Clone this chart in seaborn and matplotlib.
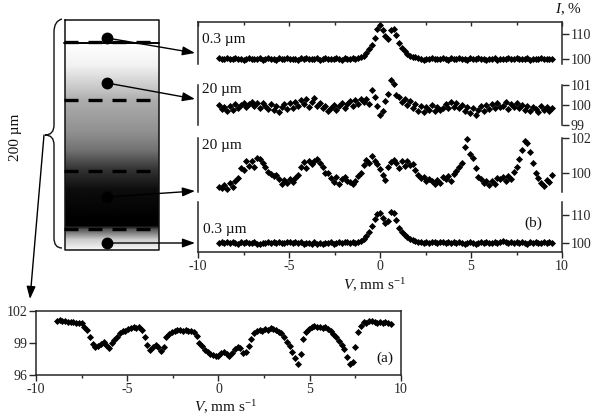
import matplotlib
matplotlib.use("Agg")
import matplotlib.pyplot as plt
import numpy as np
import pandas as pd
import seaborn as sns
from matplotlib.path import Path
from matplotlib.patches import PathPatch

# velocity grid, mm/s
velocity = [
    -8.85, -8.70, -8.55, -8.40, -8.25, -8.10, -7.95, -7.80, -7.65, -7.50,
    -7.35, -7.20, -7.05, -6.90, -6.75, -6.60, -6.45, -6.30, -6.15, -6.00,
    -5.85, -5.70, -5.55, -5.40, -5.25, -5.10, -4.95, -4.80, -4.65, -4.50,
    -4.35, -4.20, -4.05, -3.90, -3.75, -3.60, -3.45, -3.30, -3.15, -3.00,
    -2.85, -2.70, -2.55, -2.40, -2.25, -2.10, -1.95, -1.80, -1.65, -1.50,
    -1.35, -1.20, -1.05, -0.90, -0.75, -0.60, -0.45, -0.30, -0.15, 0.00,
    0.15, 0.30, 0.45, 0.60, 0.75, 0.90, 1.05, 1.20, 1.35, 1.50,
    1.65, 1.80, 1.95, 2.10, 2.25, 2.40, 2.55, 2.70, 2.85, 3.00,
    3.15, 3.30, 3.45, 3.60, 3.75, 3.90, 4.05, 4.20, 4.35, 4.50,
    4.65, 4.80, 4.95, 5.10, 5.25, 5.40, 5.55, 5.70, 5.85, 6.00,
    6.15, 6.30, 6.45, 6.60, 6.75, 6.90, 7.05, 7.20, 7.35, 7.50,
    7.65, 7.80, 7.95, 8.10, 8.25, 8.40, 8.55, 8.70, 8.85, 9.00,
    9.15, 9.30, 9.45,
]

top_03um = [
    100.2, 99.9, 100.1, 100.3, 99.8, 100.0, 100.4, 99.9, 100.1, 99.7,
    100.0, 100.3, 99.8, 100.1, 99.9, 100.2, 99.6, 100.0, 100.3, 99.9,
    100.1, 99.7, 100.2, 100.0, 99.8, 100.3, 99.9, 100.1, 100.0, 99.7,
    100.2, 99.9, 100.3, 100.0, 99.8, 100.1, 100.2, 99.7, 100.0, 100.3,
    99.9, 100.1, 99.8, 100.2, 100.0, 99.7, 100.3, 100.1, 99.9, 100.2,
    100.0, 100.3, 100.6, 101.2, 102.4, 103.8, 105.6, 108.5, 112.0, 113.5,
    111.5, 109.0, 108.0, 111.5, 112.0, 109.5, 106.5, 104.5, 103.0, 101.8,
    101.2, 100.8, 100.6, 100.2, 100.0, 99.7, 100.1, 99.9, 100.2, 99.8,
    100.1, 99.9, 100.2, 100.0, 99.7, 100.2, 100.1, 99.8, 100.3, 99.9,
    100.0, 99.7, 100.2, 99.9, 100.1, 100.3, 99.8, 100.0, 99.6, 100.1,
    99.9, 100.2, 99.7, 100.0, 100.1, 99.8, 100.2, 99.9, 100.0, 100.3,
    99.8, 100.1, 99.9, 100.2, 99.7, 100.0, 100.1, 99.8, 100.2, 100.0,
    99.8, 100.1, 99.9,
]

second_20um = [
    100.0, 99.8, 99.9, 99.7, 99.95, 99.75, 100.05, 99.85, 100.0, 100.1,
    99.9, 100.05, 100.15, 99.95, 100.1, 99.85, 100.1, 99.95, 99.8, 100.05,
    99.75, 99.95, 99.65, 99.9, 100.05, 99.8, 100.1, 99.85, 100.15, 99.95,
    100.25, 100.05, 100.3, 99.9, 100.15, 100.35, 99.95, 100.1, 99.85, 99.95,
    99.7, 99.85, 100.0, 99.75, 99.95, 100.1, 99.85, 100.05, 100.2, 99.95,
    100.25, 100.05, 100.3, 100.15, 100.3, 100.05, 100.75, 100.4, 99.95, 99.5,
    99.7, 100.2, 100.55, 101.25, 101.05, 100.5, 100.4, 100.15, 100.3, 100.0,
    100.2, 99.85, 100.05, 99.7, 99.95, 99.65, 99.9, 99.75, 100.0, 99.7,
    99.9, 99.75, 99.85, 100.05, 99.85, 100.15, 99.9, 100.1, 99.85, 100.0,
    99.7, 99.9, 99.6, 99.85, 99.5, 99.75, 99.95, 99.7, 100.0, 99.8,
    100.05, 99.85, 100.1, 99.9, 99.95, 100.15, 99.8, 100.05, 99.9, 100.1,
    99.85, 100.0, 99.75, 99.95, 99.7, 99.9, 99.8, 99.65, 99.95, 99.75,
    99.9, 99.7, 99.85,
]

third_20um = [
    99.2, 99.1, 99.3, 99.05, 99.4, 99.2, 99.5, 99.7, 100.25, 100.15,
    100.65, 100.4, 100.7, 100.35, 100.85, 100.8, 100.55, 100.35, 100.05, 99.95,
    99.8, 99.85, 99.65, 99.35, 99.6, 99.4, 99.65, 99.45, 99.7, 99.85,
    100.35, 100.6, 100.3, 100.7, 100.5, 100.7, 100.8, 100.55, 100.35, 100.0,
    100.0, 99.7, 99.45, 99.75, 99.35, 99.65, 99.75, 99.5, 99.45, 99.35,
    99.5, 99.8, 100.0, 100.45, 100.75, 100.55, 100.95, 100.7, 100.5, 100.2,
    99.85, 99.6, 100.35, 100.6, 100.75, 100.55, 100.3, 100.7, 100.4, 100.7,
    100.45, 100.5, 100.15, 99.85, 99.7, 99.75, 99.55, 99.65, 99.5, 99.35,
    99.6, 99.4, 99.75, 99.65, 99.8, 99.55, 99.9, 100.1, 100.35, 100.55,
    101.5, 101.95, 101.1, 100.85, 100.3, 99.75, 99.65, 99.4, 99.55, 99.3,
    99.5, 99.35, 99.7, 99.65, 99.75, 99.55, 99.8, 99.65, 100.05, 100.35,
    100.8, 101.3, 101.8, 101.7, 101.2, 100.55, 100.0, 99.7, 99.4, 99.25,
    99.6, 99.45, 99.85,
]

bottom_03um = [
    100.1, 100.3, 99.9, 100.2, 100.0, 100.3, 100.1, 99.8, 100.2, 100.1,
    100.3, 99.9, 100.0, 100.2, 99.8, 99.7, 100.1, 99.9, 100.2, 100.0,
    100.3, 100.0, 100.4, 100.1, 99.9, 100.3, 100.2, 100.0, 100.3, 99.9,
    100.2, 99.8, 100.1, 99.9, 99.7, 100.2, 99.8, 100.0, 99.6, 100.1,
    99.9, 100.2, 99.8, 100.1, 100.3, 100.0, 100.2, 100.4, 100.1, 100.3,
    100.1, 100.5, 100.9, 101.6, 102.6, 104.0, 106.0, 108.5, 110.5, 110.8,
    109.0, 107.0, 108.0, 111.0, 110.8, 108.2, 105.5, 104.0, 103.0, 102.0,
    101.4, 101.0, 100.6, 100.2, 100.4, 99.9, 100.5, 100.1, 100.4, 100.2,
    100.0, 100.3, 100.5, 100.1, 100.4, 100.0, 100.2, 99.9, 100.3, 100.0,
    99.8, 100.1, 100.2, 99.9, 99.7, 100.1, 100.3, 99.9, 100.2, 100.0,
    99.9, 100.3, 100.0, 100.4, 100.7, 100.2, 99.9, 100.2, 100.0, 100.3,
    99.9, 100.4, 100.0, 99.8, 100.2, 100.0, 100.3, 99.9, 100.1, 100.2,
    100.0, 100.3, 100.1,
]

lower_a = [
    101.1, 101.15, 101.1, 101.05, 101.0, 101.0, 100.95, 100.85, 100.9, 100.85,
    100.5, 100.2, 99.6, 98.95, 98.65, 98.75, 98.9, 99.05, 98.85, 98.5,
    99.0, 99.3, 99.6, 99.95, 100.1, 100.15, 100.3, 100.45, 100.5, 100.45,
    100.5, 100.2, 99.6, 98.8, 98.3, 98.6, 98.85, 98.6, 98.25, 98.6,
    99.55, 99.85, 100.0, 100.1, 100.2, 100.25, 100.15, 100.2, 100.1, 100.15,
    100.0, 99.7, 99.0, 98.7, 98.3, 98.2, 98.0, 97.85, 97.8, 97.75,
    98.1, 98.2, 98.0, 97.8, 98.1, 98.45, 98.6, 98.55, 98.1, 98.2,
    98.7, 99.4, 99.9, 100.1, 100.2, 100.15, 100.3, 100.25, 100.4, 100.3,
    100.25, 100.05, 99.9, 99.6, 99.1, 98.7, 98.2, 97.6, 97.0, 98.0,
    99.4, 100.0, 100.3, 100.5, 100.55, 100.5, 100.5, 100.45, 100.5, 100.3,
    100.1, 99.85, 99.6, 99.2, 98.85, 98.4, 97.7, 97.0, 97.2, 98.6,
    100.0, 100.6, 100.95, 100.9, 101.05, 101.1, 101.0, 100.9, 101.0, 100.85,
    100.95, 100.85, 100.8,
]

velocity_ticks = [-10, -5, 0, 5, 10]
velocity_minor = [-7.5, -2.5, 2.5, 7.5]

W, H = 600, 417

sns.set_style("white")
plt.rcParams["font.family"] = ["Liberation Serif", "DejaVu Sans"]
plt.rcParams["mathtext.fontset"] = "custom"
plt.rcParams["mathtext.rm"] = "Liberation Serif"
plt.rcParams["mathtext.it"] = "Liberation Serif:italic"
plt.rcParams["font.size"] = 10
plt.rcParams["axes.linewidth"] = 1.1
plt.rcParams["axes.unicode_minus"] = False
plt.rcParams["text.color"] = "#111111"


def panel_axes(fig, x0, x1, y0, y1):
    # axes placed by pixel box (y measured from the top of the image)
    return fig.add_axes([x0 / W, 1 - y1 / H, (x1 - x0) / W, (y1 - y0) / H])


def draw_spectrum(ax, values, ylim):
    data = pd.DataFrame({"V": velocity, "I": values})
    sns.scatterplot(data=data, x="V", y="I", ax=ax, color="black", marker="D",
                    s=13, linewidth=0, clip_on=False, legend=False)
    ax.set_xlim(-10, 10)
    ax.set_ylim(*ylim)
    ax.set_xlabel("")
    ax.set_ylabel("")
    ax.patch.set_alpha(0)


def right_panel(ax, yticks, show_top=False, show_bottom=False):
    for side in ax.spines:
        ax.spines[side].set_visible(side in ("left", "right"))
    ax.spines["top"].set_visible(show_top)
    ax.spines["bottom"].set_visible(show_bottom)
    ax.yaxis.tick_right()
    ax.set_yticks(yticks)
    ax.tick_params(axis="y", which="major", direction="out", length=5, width=1,
                   right=True, left=False, labelsize=10, pad=1)
    if show_top:
        ax.xaxis.tick_top()
        ax.set_xticks(velocity_ticks)
        ax.set_xticks(velocity_minor, minor=True)
        ax.tick_params(axis="x", which="major", direction="in", length=3, width=1, labeltop=False)
        ax.tick_params(axis="x", which="minor", direction="in", length=2, width=1, top=True)
    elif show_bottom:
        ax.set_xticks(velocity_ticks)
        ax.set_xticks(velocity_minor, minor=True)
        ax.tick_params(axis="x", which="major", direction="out", length=4, width=1,
                       bottom=True, labelsize=10, pad=2)
        ax.tick_params(axis="x", which="minor", direction="out", length=2, width=1, bottom=True)
    else:
        ax.set_xticks([])


fig = plt.figure(figsize=(6, 4.17), dpi=100, facecolor="white")

# overlay in image pixels for the sample sketch and the annotations
ov = fig.add_axes([0, 0, 1, 1])
ov.set_xlim(0, W)
ov.set_ylim(H, 0)
ov.axis("off")

grad_y = [19, 42, 65, 88, 100, 133, 150, 170, 190, 220, 226, 230, 240, 250]
grad_v = [1.0, 1.0, 0.95, 0.78, 0.68, 0.56, 0.45, 0.2, 0.05, 0.0, 0.0, 0.35, 0.8, 0.97]
rows = np.arange(19, 251)
gray = np.interp(rows, grad_y, grad_v).reshape(-1, 1)
ov.imshow(gray, cmap="gray", vmin=0, vmax=1, extent=[65, 159, 250, 19], aspect="auto", zorder=1)
ov.set_xlim(0, W)
ov.set_ylim(H, 0)
ov.plot([65, 159, 159, 65, 65], [19.5, 19.5, 250, 250, 19.5], color="#111111", lw=1.1, zorder=3)

# layer boundaries
ov.plot([64, 159], [42.5, 42.5], color="black", lw=1.4, zorder=3)
for yy in [42, 100, 171, 229]:
    ov.plot([64, 160], [yy, yy], color="black", lw=2.4, ls=(0, (4.2, 3)), zorder=3)

# sample points and arrows to the spectra
starts = [(107, 38), (107, 83), (107, 197), (107, 243)]
ends = [(195, 53), (195, 99), (195, 191), (195, 243)]
for s, e in zip(starts, ends):
    ov.plot(*s, "o", color="black", ms=7.5, zorder=4)
    ov.annotate("", xy=e, xytext=s, zorder=4,
                arrowprops=dict(arrowstyle="-|>,head_width=0.27,head_length=0.75", color="black",
                                lw=1, shrinkA=0, shrinkB=0))

# curly brace and arrow to the bulk spectrum
verts = [(62, 19), (54, 21), (54, 32), (54, 125), (54, 135), (45, 135),
         (54, 135), (54, 145), (54, 238), (54, 248), (62, 248)]
codes = [Path.MOVETO, Path.CURVE3, Path.CURVE3, Path.LINETO, Path.CURVE3, Path.CURVE3,
         Path.CURVE3, Path.CURVE3, Path.LINETO, Path.CURVE3, Path.CURVE3]
ov.add_patch(PathPatch(Path(verts, codes), fill=False, ec="#111111", lw=1, zorder=3))
ov.annotate("", xy=(30, 299), xytext=(44, 135),
            arrowprops=dict(arrowstyle="-|>,head_width=0.27,head_length=0.75", color="black",
                            lw=1, shrinkA=0, shrinkB=0))
ov.text(15, 137, "200 µm", rotation=90, ha="center", va="center", fontsize=11)

# spectra, upper block
ax1 = panel_axes(fig, 198, 562, 22, 64)
draw_spectrum(ax1, top_03um, (98.0, 114.8))
right_panel(ax1, [100, 110], show_top=True)

ax2 = panel_axes(fig, 198, 562, 85, 125)
draw_spectrum(ax2, second_20um, (99, 101))
right_panel(ax2, [99, 100, 101])

ax3 = panel_axes(fig, 198, 562, 138, 192)
draw_spectrum(ax3, third_20um, (98.89, 102))
right_panel(ax3, [100, 102])

ax4 = panel_axes(fig, 198, 562, 202, 252)
draw_spectrum(ax4, bottom_03um, (96.8, 114.64))
right_panel(ax4, [100, 110], show_bottom=True)

# spectrum (a)
ax5 = panel_axes(fig, 36, 401, 311, 375)
draw_spectrum(ax5, lower_a, (96, 102))
sns.despine(ax=ax5, top=False, right=False)
ax5.set_yticks([96, 99, 102])
ax5.set_xticks(velocity_ticks)
ax5.set_xticks(velocity_minor, minor=True)
ax5.tick_params(axis="y", direction="out", length=5, width=1, left=True, labelsize=10, pad=1)
ax5.tick_params(axis="x", which="major", direction="out", length=4, width=1, bottom=True, labelsize=10, pad=2)
ax5.tick_params(axis="x", which="minor", direction="out", length=2, width=1, bottom=True)

ov.set_zorder(5)
ov.text(202, 39, "0.3 µm", ha="left", va="center", fontsize=11)
ov.text(202, 89, "20 µm", ha="left", va="center", fontsize=11)
ov.text(202, 146, "20 µm", ha="left", va="center", fontsize=11)
ov.text(203, 229, "0.3 µm", ha="left", va="center", fontsize=11)
ov.text(533, 223, "(b)", ha="center", va="center", fontsize=11)
ov.text(385, 358, "(a)", ha="center", va="center", fontsize=11)
ov.text(568, 9, r"$\mathit{I}$, %", ha="center", va="center", fontsize=11)
ov.text(375, 285, r"$\mathit{V}$, mm s$^{-1}$", ha="center", va="center", fontsize=11)
ov.text(226, 407, r"$\mathit{V}$, mm s$^{-1}$", ha="center", va="center", fontsize=11)

fig.savefig("out.png", dpi=100, facecolor="white")
